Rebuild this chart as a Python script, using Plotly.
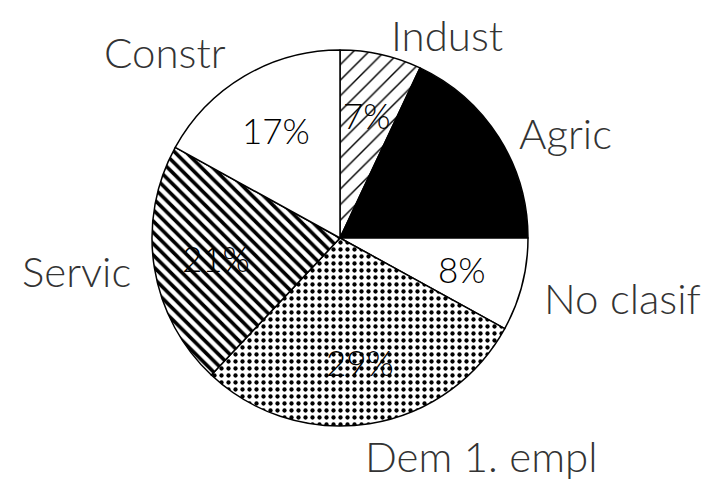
import math
import plotly.graph_objects as go

# Data (clockwise from 12 o'clock)
categories = ["Indust", "Agric", "No clasif", "Dem 1. empl", "Servic", "Constr"]
values = [7, 18, 8, 29, 21, 17]

# Page has an 8px body margin: figure is sized/positioned to compensate
OFF = 8
W, H = 718 - OFF, 481 - OFF
CX, CY, R = 340 - OFF, 238 - OFF, 188

fill_colors = ["white", "black", "white", "white", "white", "white"]
pattern_shapes = ["/", "", "", ".", "\\", ""]
pattern_sizes = [11, 8, 8, 7, 8, 8]
pattern_solidity = [0.13, 0.3, 0.3, 0.3, 0.45, 0.3]
pct_colors = ["black", "black", "black", "black", "black", "black"]

# outer label centres in (screen) pixels
label_pos = {
    "Indust": (447, 35),
    "Agric": (565, 133),
    "No clasif": (622, 298),
    "Dem 1. empl": (481, 456),
    "Servic": (76, 271),
    "Constr": (165, 52),
}

FONT = "Lato"

fig = go.Figure(
    go.Pie(
        labels=categories,
        values=values,
        sort=False,
        direction="clockwise",
        rotation=0,
        textinfo="none",
        hoverinfo="label+percent",
        showlegend=False,
        marker=dict(
            colors=fill_colors,
            line=dict(color="black", width=1.5),
            pattern=dict(
                shape=pattern_shapes,
                fgcolor="black",
                bgcolor=fill_colors,
                size=pattern_sizes,
                solidity=pattern_solidity,
                fillmode="replace",
            ),
        ),
        domain=dict(
            x=[(CX - R) / W, (CX + R) / W],
            y=[1 - (CY + R) / H, 1 - (CY - R) / H],
        ),
    )
)

annotations = []
total = sum(values)
cum = 0
for cat, v, col in zip(categories, values, pct_colors):
    mid = (cum + v / 2) / total * 2 * math.pi
    cum += v
    rr = 0.67 * R
    px = CX + rr * math.sin(mid)
    py = CY - rr * math.cos(mid)
    annotations.append(dict(
        x=px / W, y=1 - py / H, xref="paper", yref="paper",
        text=f"{round(v / total * 100)}%", showarrow=False,
        xanchor="center", yanchor="middle",
        font=dict(family=FONT, size=35, color=col, weight=300),
    ))

for cat in categories:
    lx, ly = label_pos[cat]
    annotations.append(dict(
        x=(lx - OFF) / W, y=1 - (ly - OFF) / H, xref="paper", yref="paper",
        text=cat, showarrow=False, xanchor="center", yanchor="middle",
        font=dict(family=FONT, size=42, color="#333333", weight=300),
    ))

fig.update_layout(
    width=W, height=H, autosize=False,
    margin=dict(l=0, r=0, t=0, b=0),
    paper_bgcolor="white", plot_bgcolor="white",
    annotations=annotations,
)

fig.write_html("out.html")
